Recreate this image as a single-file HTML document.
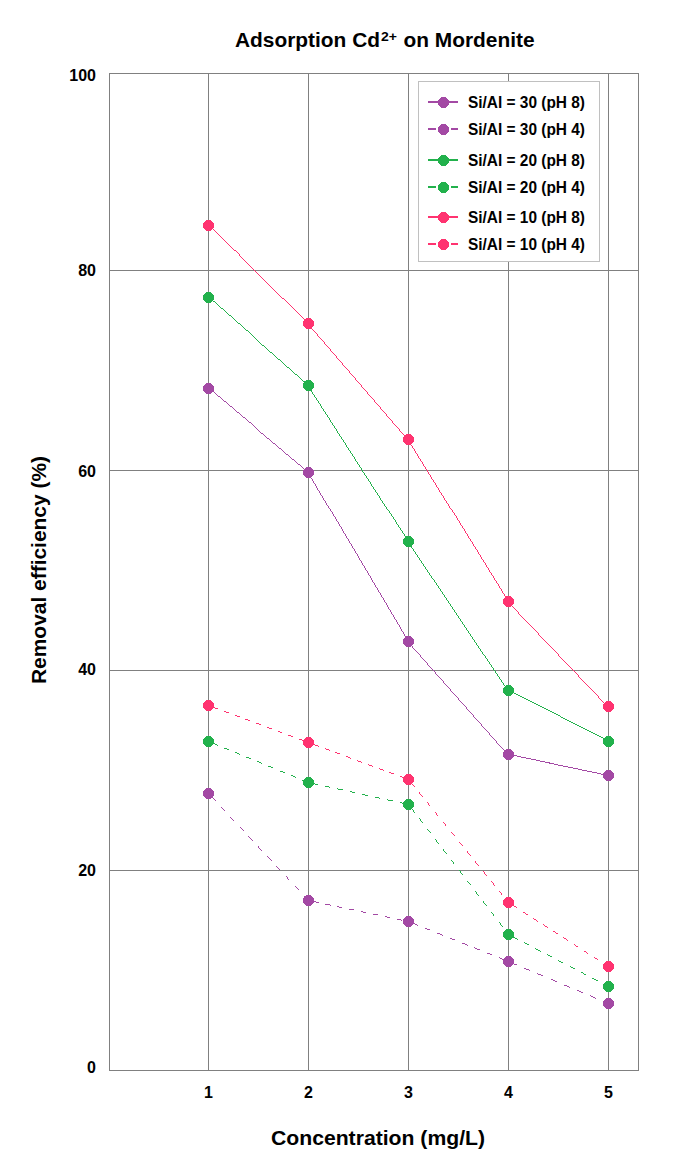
<!DOCTYPE html>
<html><head><meta charset="utf-8"><style>
html,body{margin:0;padding:0;background:#fff;}
svg{display:block;}
text{font-family:"Liberation Sans",sans-serif;font-weight:bold;fill:#000;}
.t{font-size:16px;}
.lg{font-size:16px;}
.ttl{font-size:21px;}
.ax{font-size:20px;}
</style></head><body>
<svg width="679" height="1172" viewBox="0 0 679 1172">
<rect width="679" height="1172" fill="#fff"/>
<text x="235" y="47" class="ttl" textLength="145" lengthAdjust="spacingAndGlyphs">Adsorption Cd</text>
<text x="381" y="40.5" style="font-size:12px" textLength="16" lengthAdjust="spacingAndGlyphs">2+</text>
<text x="403.5" y="47" class="ttl" textLength="131" lengthAdjust="spacingAndGlyphs">on Mordenite</text>
<line x1="208.5" y1="73.5" x2="208.5" y2="1070.5" stroke="#808080" stroke-width="1"/>
<line x1="308.5" y1="73.5" x2="308.5" y2="1070.5" stroke="#808080" stroke-width="1"/>
<line x1="408.5" y1="73.5" x2="408.5" y2="1070.5" stroke="#808080" stroke-width="1"/>
<line x1="508.5" y1="73.5" x2="508.5" y2="1070.5" stroke="#808080" stroke-width="1"/>
<line x1="608.5" y1="73.5" x2="608.5" y2="1070.5" stroke="#808080" stroke-width="1"/>
<line x1="109.5" y1="270.5" x2="638.5" y2="270.5" stroke="#808080" stroke-width="1"/>
<line x1="109.5" y1="470.5" x2="638.5" y2="470.5" stroke="#808080" stroke-width="1"/>
<line x1="109.5" y1="670.5" x2="638.5" y2="670.5" stroke="#808080" stroke-width="1"/>
<line x1="109.5" y1="870.5" x2="638.5" y2="870.5" stroke="#808080" stroke-width="1"/>
<rect x="109.5" y="73.5" width="529" height="997" fill="none" stroke="#808080" stroke-width="1"/>

<text x="96" y="81" text-anchor="end" class="t">100</text>
<text x="96" y="276" text-anchor="end" class="t">80</text>
<text x="96" y="477" text-anchor="end" class="t">60</text>
<text x="96" y="675" text-anchor="end" class="t">40</text>
<text x="96" y="876" text-anchor="end" class="t">20</text>
<text x="96" y="1073" text-anchor="end" class="t">0</text>

<text x="208.5" y="1098" text-anchor="middle" class="t">1</text>
<text x="308.5" y="1098" text-anchor="middle" class="t">2</text>
<text x="408.5" y="1098" text-anchor="middle" class="t">3</text>
<text x="508.5" y="1098" text-anchor="middle" class="t">4</text>
<text x="608.5" y="1098" text-anchor="middle" class="t">5</text>

<text x="271" y="1145" class="ax" textLength="214" lengthAdjust="spacingAndGlyphs">Concentration (mg/L)</text>
<text transform="translate(46,684) rotate(-90)" class="ax" textLength="228" lengthAdjust="spacingAndGlyphs">Removal efficiency (%)</text>
<g shape-rendering="crispEdges">
<line x1="208.5" y1="793.5" x2="308.5" y2="900.5" stroke="#A349A4" stroke-width="0.999" stroke-dasharray="6.07,7.42" stroke-dashoffset="8.66"/>
<line x1="308.5" y1="900.5" x2="408.5" y2="921.5" stroke="#A349A4" stroke-width="0.999" stroke-dasharray="5.52,6.74" stroke-dashoffset="7.56"/>
<line x1="408.5" y1="921.5" x2="508.5" y2="961.5" stroke="#A349A4" stroke-width="0.999" stroke-dasharray="6.01,7.35" stroke-dashoffset="9.26"/>
<line x1="508.5" y1="961.5" x2="608.5" y2="1003.5" stroke="#A349A4" stroke-width="0.999" stroke-dasharray="6.49,7.93" stroke-dashoffset="12.04"/>
<line x1="208.5" y1="741.5" x2="308.5" y2="782.5" stroke="#22B14C" stroke-width="0.999" stroke-dasharray="5.40,6.60" stroke-dashoffset="7.24"/>
<line x1="308.5" y1="782.5" x2="408.5" y2="804.5" stroke="#22B14C" stroke-width="0.999" stroke-dasharray="5.76,7.04" stroke-dashoffset="9.01"/>
<line x1="408.5" y1="804.5" x2="508.5" y2="934.5" stroke="#22B14C" stroke-width="0.999" stroke-dasharray="5.89,7.20" stroke-dashoffset="8.79"/>
<line x1="508.5" y1="934.5" x2="608.5" y2="986.5" stroke="#22B14C" stroke-width="0.999" stroke-dasharray="5.78,7.07" stroke-dashoffset="8.23"/>
<line x1="208.5" y1="705.5" x2="308.5" y2="742.5" stroke="#FF3370" stroke-width="0.999" stroke-dasharray="5.15,6.29" stroke-dashoffset="6.35"/>
<line x1="308.5" y1="742.5" x2="408.5" y2="779.5" stroke="#FF3370" stroke-width="0.999" stroke-dasharray="5.18,6.33" stroke-dashoffset="5.76"/>
<line x1="408.5" y1="779.5" x2="508.5" y2="902.5" stroke="#FF3370" stroke-width="0.999" stroke-dasharray="5.73,7.00" stroke-dashoffset="9.13"/>
<line x1="508.5" y1="902.5" x2="608.5" y2="966.5" stroke="#FF3370" stroke-width="0.999" stroke-dasharray="5.40,6.60" stroke-dashoffset="6.77"/>
<polyline points="208.5,388.5 308.5,472.5 408.5,641.5 508.5,754.5 608.5,775.5" fill="none" stroke="#A349A4" stroke-width="0.999"/>
<polyline points="208.5,297.5 308.5,385.5 408.5,541.5 508.5,690.5 608.5,741.5" fill="none" stroke="#22B14C" stroke-width="0.999"/>
<polyline points="208.5,225.5 308.5,323.5 408.5,439.5 508.5,601.5 608.5,706.5" fill="none" stroke="#FF3370" stroke-width="0.999"/>

</g>
<g shape-rendering="crispEdges">
<polygon points="206.4,788.0 210.6,788.0 214.0,791.4 214.0,795.6 210.6,799.0 206.4,799.0 203.0,795.6 203.0,791.4" fill="#A349A4"/>
<polygon points="306.4,895.0 310.6,895.0 314.0,898.4 314.0,902.6 310.6,906.0 306.4,906.0 303.0,902.6 303.0,898.4" fill="#A349A4"/>
<polygon points="406.4,916.0 410.6,916.0 414.0,919.4 414.0,923.6 410.6,927.0 406.4,927.0 403.0,923.6 403.0,919.4" fill="#A349A4"/>
<polygon points="506.4,956.0 510.6,956.0 514.0,959.4 514.0,963.6 510.6,967.0 506.4,967.0 503.0,963.6 503.0,959.4" fill="#A349A4"/>
<polygon points="606.4,998.0 610.6,998.0 614.0,1001.4 614.0,1005.6 610.6,1009.0 606.4,1009.0 603.0,1005.6 603.0,1001.4" fill="#A349A4"/>
<polygon points="206.4,736.0 210.6,736.0 214.0,739.4 214.0,743.6 210.6,747.0 206.4,747.0 203.0,743.6 203.0,739.4" fill="#22B14C"/>
<polygon points="306.4,777.0 310.6,777.0 314.0,780.4 314.0,784.6 310.6,788.0 306.4,788.0 303.0,784.6 303.0,780.4" fill="#22B14C"/>
<polygon points="406.4,799.0 410.6,799.0 414.0,802.4 414.0,806.6 410.6,810.0 406.4,810.0 403.0,806.6 403.0,802.4" fill="#22B14C"/>
<polygon points="506.4,929.0 510.6,929.0 514.0,932.4 514.0,936.6 510.6,940.0 506.4,940.0 503.0,936.6 503.0,932.4" fill="#22B14C"/>
<polygon points="606.4,981.0 610.6,981.0 614.0,984.4 614.0,988.6 610.6,992.0 606.4,992.0 603.0,988.6 603.0,984.4" fill="#22B14C"/>
<polygon points="206.4,700.0 210.6,700.0 214.0,703.4 214.0,707.6 210.6,711.0 206.4,711.0 203.0,707.6 203.0,703.4" fill="#FF3370"/>
<polygon points="306.4,737.0 310.6,737.0 314.0,740.4 314.0,744.6 310.6,748.0 306.4,748.0 303.0,744.6 303.0,740.4" fill="#FF3370"/>
<polygon points="406.4,774.0 410.6,774.0 414.0,777.4 414.0,781.6 410.6,785.0 406.4,785.0 403.0,781.6 403.0,777.4" fill="#FF3370"/>
<polygon points="506.4,897.0 510.6,897.0 514.0,900.4 514.0,904.6 510.6,908.0 506.4,908.0 503.0,904.6 503.0,900.4" fill="#FF3370"/>
<polygon points="606.4,961.0 610.6,961.0 614.0,964.4 614.0,968.6 610.6,972.0 606.4,972.0 603.0,968.6 603.0,964.4" fill="#FF3370"/>
<polygon points="206.4,383.0 210.6,383.0 214.0,386.4 214.0,390.6 210.6,394.0 206.4,394.0 203.0,390.6 203.0,386.4" fill="#A349A4"/>
<polygon points="306.4,467.0 310.6,467.0 314.0,470.4 314.0,474.6 310.6,478.0 306.4,478.0 303.0,474.6 303.0,470.4" fill="#A349A4"/>
<polygon points="406.4,636.0 410.6,636.0 414.0,639.4 414.0,643.6 410.6,647.0 406.4,647.0 403.0,643.6 403.0,639.4" fill="#A349A4"/>
<polygon points="506.4,749.0 510.6,749.0 514.0,752.4 514.0,756.6 510.6,760.0 506.4,760.0 503.0,756.6 503.0,752.4" fill="#A349A4"/>
<polygon points="606.4,770.0 610.6,770.0 614.0,773.4 614.0,777.6 610.6,781.0 606.4,781.0 603.0,777.6 603.0,773.4" fill="#A349A4"/>
<polygon points="206.4,292.0 210.6,292.0 214.0,295.4 214.0,299.6 210.6,303.0 206.4,303.0 203.0,299.6 203.0,295.4" fill="#22B14C"/>
<polygon points="306.4,380.0 310.6,380.0 314.0,383.4 314.0,387.6 310.6,391.0 306.4,391.0 303.0,387.6 303.0,383.4" fill="#22B14C"/>
<polygon points="406.4,536.0 410.6,536.0 414.0,539.4 414.0,543.6 410.6,547.0 406.4,547.0 403.0,543.6 403.0,539.4" fill="#22B14C"/>
<polygon points="506.4,685.0 510.6,685.0 514.0,688.4 514.0,692.6 510.6,696.0 506.4,696.0 503.0,692.6 503.0,688.4" fill="#22B14C"/>
<polygon points="606.4,736.0 610.6,736.0 614.0,739.4 614.0,743.6 610.6,747.0 606.4,747.0 603.0,743.6 603.0,739.4" fill="#22B14C"/>
<polygon points="206.4,220.0 210.6,220.0 214.0,223.4 214.0,227.6 210.6,231.0 206.4,231.0 203.0,227.6 203.0,223.4" fill="#FF3370"/>
<polygon points="306.4,318.0 310.6,318.0 314.0,321.4 314.0,325.6 310.6,329.0 306.4,329.0 303.0,325.6 303.0,321.4" fill="#FF3370"/>
<polygon points="406.4,434.0 410.6,434.0 414.0,437.4 414.0,441.6 410.6,445.0 406.4,445.0 403.0,441.6 403.0,437.4" fill="#FF3370"/>
<polygon points="506.4,596.0 510.6,596.0 514.0,599.4 514.0,603.6 510.6,607.0 506.4,607.0 503.0,603.6 503.0,599.4" fill="#FF3370"/>
<polygon points="606.4,701.0 610.6,701.0 614.0,704.4 614.0,708.6 610.6,712.0 606.4,712.0 603.0,708.6 603.0,704.4" fill="#FF3370"/>

</g>
<g shape-rendering="crispEdges">
<rect x="418.5" y="81.5" width="181" height="180" fill="#fff" stroke="#C0C0C0" stroke-width="1"/>
<rect x="428" y="101" width="30" height="2" fill="#A349A4"/>
<polygon points="441.4,97.0 445.6,97.0 449.0,100.4 449.0,104.6 445.6,108.0 441.4,108.0 438.0,104.6 438.0,100.4" fill="#A349A4"/>
<text x="468" y="108" class="lg" textLength="117" lengthAdjust="spacingAndGlyphs">Si/Al = 30 (pH 8)</text>
<rect x="428" y="128" width="8" height="2" fill="#A349A4"/>
<rect x="451" y="128" width="7" height="2" fill="#A349A4"/>
<polygon points="441.4,124.0 445.6,124.0 449.0,127.4 449.0,131.6 445.6,135.0 441.4,135.0 438.0,131.6 438.0,127.4" fill="#A349A4"/>
<text x="468" y="135" class="lg" textLength="117" lengthAdjust="spacingAndGlyphs">Si/Al = 30 (pH 4)</text>
<rect x="428" y="159" width="30" height="2" fill="#22B14C"/>
<polygon points="441.4,155.0 445.6,155.0 449.0,158.4 449.0,162.6 445.6,166.0 441.4,166.0 438.0,162.6 438.0,158.4" fill="#22B14C"/>
<text x="468" y="166" class="lg" textLength="117" lengthAdjust="spacingAndGlyphs">Si/Al = 20 (pH 8)</text>
<rect x="428" y="186" width="8" height="2" fill="#22B14C"/>
<rect x="451" y="186" width="7" height="2" fill="#22B14C"/>
<polygon points="441.4,182.0 445.6,182.0 449.0,185.4 449.0,189.6 445.6,193.0 441.4,193.0 438.0,189.6 438.0,185.4" fill="#22B14C"/>
<text x="468" y="193" class="lg" textLength="117" lengthAdjust="spacingAndGlyphs">Si/Al = 20 (pH 4)</text>
<rect x="428" y="216" width="30" height="2" fill="#FF3370"/>
<polygon points="441.4,212.0 445.6,212.0 449.0,215.4 449.0,219.6 445.6,223.0 441.4,223.0 438.0,219.6 438.0,215.4" fill="#FF3370"/>
<text x="468" y="223" class="lg" textLength="117" lengthAdjust="spacingAndGlyphs">Si/Al = 10 (pH 8)</text>
<rect x="428" y="243" width="8" height="2" fill="#FF3370"/>
<rect x="451" y="243" width="7" height="2" fill="#FF3370"/>
<polygon points="441.4,239.0 445.6,239.0 449.0,242.4 449.0,246.6 445.6,250.0 441.4,250.0 438.0,246.6 438.0,242.4" fill="#FF3370"/>
<text x="468" y="250" class="lg" textLength="117" lengthAdjust="spacingAndGlyphs">Si/Al = 10 (pH 4)</text>

</g>
</svg>
</body></html>
